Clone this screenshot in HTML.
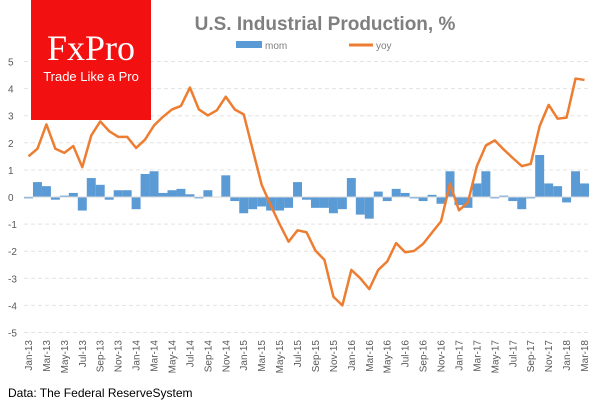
<!DOCTYPE html>
<html><head><meta charset="utf-8"><style>
body{margin:0;background:#fff;width:600px;height:400px;overflow:hidden;font-family:"Liberation Sans",sans-serif}
</style></head><body>
<svg id="c" width="600" height="400" xmlns="http://www.w3.org/2000/svg">
<text x="325" y="30" text-anchor="middle" fill="#7f7f7f" font-size="19" font-weight="bold">U.S. Industrial  Production,  %</text>
<rect x="236" y="41" width="26" height="7" fill="#5b9bd5"/>
<text x="265" y="49" fill="#7f7f7f" font-size="10">mom</text>
<line x1="349" y1="45" x2="373" y2="45" stroke="#ed7d31" stroke-width="3"/>
<text x="376" y="49" fill="#7f7f7f" font-size="10">yoy</text>
<g id="grid"></g><g id="bars"></g><g id="lines"></g><g id="xl"></g>
<rect x="31" y="0" width="120" height="120" fill="#f21010"/>
<text x="91" y="60" text-anchor="middle" fill="#fff" font-family="Liberation Serif,serif" font-size="36">FxPro</text>
<text x="91" y="81" text-anchor="middle" fill="#fff" font-size="13">Trade Like a Pro</text>
<text x="8" y="397" fill="#000" font-size="12">Data: The Federal ReserveSystem</text>
</svg>
<script>
const months=["Jan","Feb","Mar","Apr","May","Jun","Jul","Aug","Sep","Oct","Nov","Dec"];
const categories=[];for(let y=13;y<=18;y++)for(let m=0;m<12;m++){if(y===18&&m>2)break;categories.push(months[m]+"-"+y);}
const yTicks=[5,4,3,2,1,0,-1,-2,-3,-4,-5];
const mom=[-0.05,0.55,0.4,-0.1,0.05,0.15,-0.5,0.7,0.45,-0.1,0.25,0.25,-0.45,0.85,0.95,0.15,0.25,0.3,0.1,-0.05,0.25,0,0.8,-0.15,-0.6,-0.45,-0.35,-0.5,-0.5,-0.4,0.55,-0.1,-0.4,-0.4,-0.6,-0.45,0.7,-0.65,-0.8,0.2,-0.15,0.3,0.15,-0.05,-0.15,0.08,-0.25,0.95,-0.3,-0.4,0.5,0.95,-0.05,0.05,-0.15,-0.45,-0.05,1.55,0.5,0.4,-0.2,0.95,0.5];
const yoy=[1.5,1.78,2.68,1.78,1.63,1.88,1.1,2.27,2.79,2.43,2.22,2.22,1.81,2.12,2.64,2.96,3.23,3.36,4.04,3.23,3.01,3.2,3.7,3.23,3.05,1.75,0.45,-0.3,-1.0,-1.65,-1.23,-1.3,-1.98,-2.32,-3.68,-4.0,-2.69,-3.0,-3.4,-2.69,-2.38,-1.7,-2.04,-1.99,-1.73,-1.31,-0.9,0.49,-0.49,-0.2,1.14,1.9,2.09,1.75,1.44,1.14,1.22,2.62,3.4,2.89,2.93,4.37,4.32];
const NS="http://www.w3.org/2000/svg";
const x0=24,x1=589,bw=(x1-x0)/categories.length;
const xc=i=>x0+(i+0.5)*bw;
const yv=v=>197-v*27.1;
function mk(t,a,p){const e=document.createElementNS(NS,t);for(const k in a)e.setAttribute(k,a[k]);p.appendChild(e);return e;}
const grid=document.getElementById('grid');
yTicks.forEach(t=>{
 if(t!==0){const l=mk('line',{x1:x0,x2:x1,y1:yv(t),y2:yv(t),stroke:'#e3e3e3','stroke-dasharray':'4,3'},grid);
 
 }
 const tx=mk('text',{x:8,y:yv(t)+4,fill:'#595959','font-size':10},grid);tx.textContent=t;
 
 
});
const bars=document.getElementById('bars');
mom.forEach((v,i)=>{
 const r=mk('rect',{x:xc(i)-bw/2,width:bw,y:Math.min(yv(v),yv(0)),height:Math.abs(yv(v)-yv(0)),fill:'#5b9bd5'},bars);
 
 
});
const zl=mk('line',{x1:x0,x2:x1,y1:yv(0),y2:yv(0),stroke:'#d9d9d9'},bars);


const pl=mk('polyline',{points:yoy.map((v,i)=>xc(i)+','+yv(v)).join(' '),fill:'none',stroke:'#ed7d31','stroke-width':2.5,'stroke-linejoin':'round'},document.getElementById('lines'));


const xl=document.getElementById('xl');
categories.forEach((c,i)=>{if(i%2)return;
 const t=mk('text',{x:0,y:0,fill:'#595959','font-size':10,'text-anchor':'end',transform:`translate(${xc(i)+3.5},340) rotate(-90)`},xl);t.textContent=c;
 
 
});
</script>
</body></html>
